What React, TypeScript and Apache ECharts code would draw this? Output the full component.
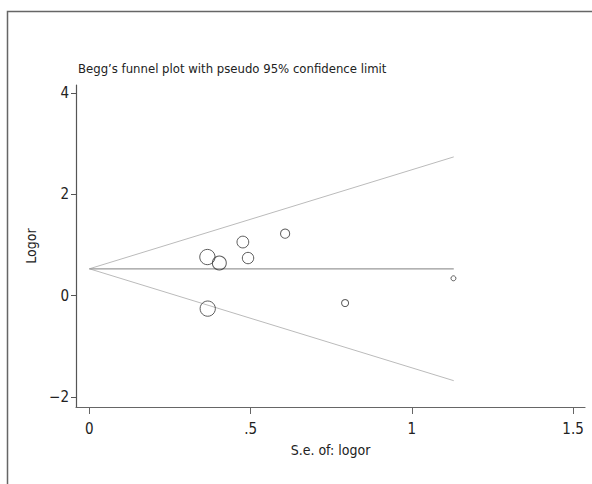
import React, { useEffect, useRef } from "react";
import * as echarts from "echarts";

const seValues = [0.366, 0.403, 0.476, 0.492, 0.607, 0.367, 0.793, 1.129];
const logorValues = [0.762, 0.644, 1.058, 0.742, 1.224, -0.257, -0.146, 0.342];
const pooled = 0.53;
const funnelSe = [0, 1.13];
const upperLimit = [0.53, 2.74];
const lowerLimit = [0.53, -1.68];
const xTicks = [0, 0.5, 1, 1.5];
const xTickLabels = ["0", ".5", "1", "1.5"];
const yTicks = [-2, 0, 2, 4];
const yTickLabels = ["\u22122", "0", "2", "4"];

const FONT = "'Liberation Sans Narrow', 'DejaVu Sans Condensed', sans-serif";

export default function App() {
  const ref = useRef<HTMLDivElement>(null);
  useEffect(() => {
    if (!ref.current) return;
    const chart = echarts.init(ref.current, undefined, { renderer: "svg" });
    const points = seValues.map((s, i) => [s, logorValues[i]]);
    chart.setOption({
      animation: false,
      backgroundColor: "#fff",
      title: {
        text: "Begg\u2019s funnel plot with pseudo 95% confidence limit",
        left: 73,
        top: 57,
        textStyle: { fontFamily: FONT, fontSize: 13, fontWeight: "normal", color: "#222" },
      },
      graphic: [
        {
          type: "rect",
          shape: { x: 7.5, y: 11.5, width: 700, height: 600 },
          style: { fill: "none", stroke: "#666", lineWidth: 1.5 },
          silent: true,
        },
      ],
      grid: { left: 76, right: 7, top: 85, bottom: 77 },
      xAxis: {
        type: "value",
        min: -0.0415,
        max: 1.537,
        name: "S.e. of: logor",
        nameLocation: "middle",
        nameGap: 36,
        nameTextStyle: { fontFamily: FONT, fontSize: 14, color: "#222" },
        axisLine: { show: true, onZero: false, lineStyle: { color: "#666", width: 1.2 } },
        axisTick: { show: true, customValues: xTicks, length: 7, lineStyle: { color: "#666" } },
        axisLabel: {
          customValues: xTicks,
          margin: 14,
          fontFamily: FONT,
          fontSize: 15,
          color: "#222",
          formatter: (v: number) => xTickLabels[xTicks.indexOf(Math.round(v * 10) / 10)] ?? "",
        },
        splitLine: { show: false },
      },
      yAxis: {
        type: "value",
        min: -2.2,
        max: 4.16,
        name: "Logor",
        nameLocation: "middle",
        nameGap: 32,
        nameTextStyle: { fontFamily: FONT, fontSize: 14, color: "#222" },
        axisLine: { show: true, onZero: false, lineStyle: { color: "#555", width: 1.2 } },
        axisTick: { show: true, customValues: yTicks, length: 5, lineStyle: { color: "#555" } },
        axisLabel: {
          customValues: yTicks,
          margin: 7,
          fontFamily: FONT,
          fontSize: 15,
          color: "#222",
          formatter: (v: number) => yTickLabels[yTicks.indexOf(Math.round(v))] ?? "",
        },
        splitLine: { show: false },
      },
      series: [
        {
          type: "line",
          data: funnelSe.map((s, i) => [s, upperLimit[i]]),
          symbol: "none",
          lineStyle: { color: "#bbb", width: 1 },
          silent: true,
        },
        {
          type: "line",
          data: funnelSe.map((s, i) => [s, lowerLimit[i]]),
          symbol: "none",
          lineStyle: { color: "#bbb", width: 1 },
          silent: true,
        },
        {
          type: "line",
          data: funnelSe.map((s) => [s, pooled]),
          symbol: "none",
          lineStyle: { color: "#999", width: 1.2 },
          silent: true,
        },
        {
          type: "scatter",
          data: points,
          symbol: "circle",
          symbolSize: (d: number[]) => 5.6 / d[0],
          itemStyle: { color: "rgba(255,255,255,0)", borderColor: "#333", borderWidth: 1 },
          z: 5,
        },
      ],
    });
    return () => chart.dispose();
  }, []);
  return (
    <div
      ref={ref}
      style={{ position: "fixed", left: 0, top: 0, width: 592, height: 484 }}
    />
  );
}
